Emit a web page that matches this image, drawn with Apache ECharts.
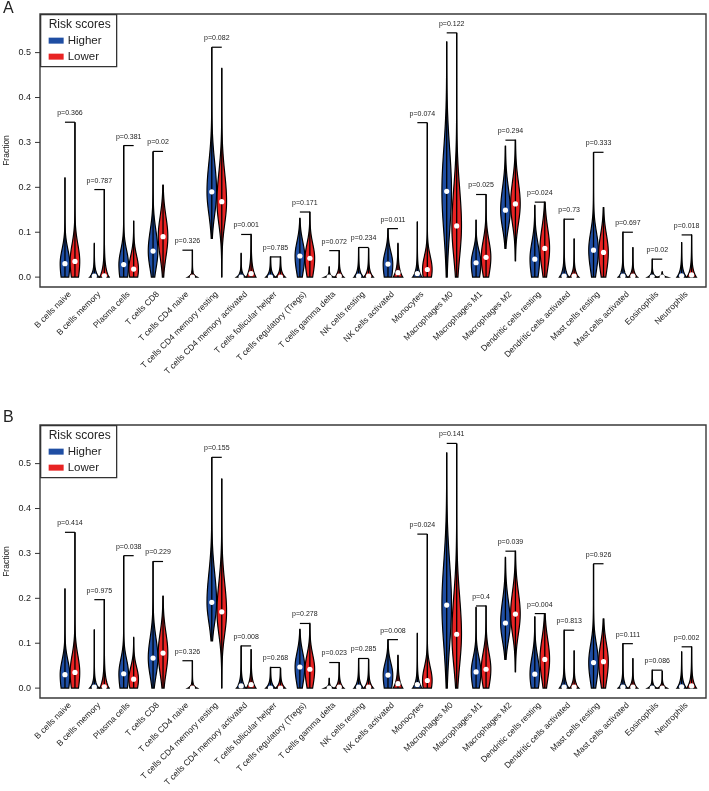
<!DOCTYPE html>
<html><head><meta charset="utf-8">
<script src="https://cdn.jsdelivr.net/npm/echarts@6/dist/echarts.min.js"></script>
<style>html,body{margin:0;padding:0;background:#fff}#c{width:709px;height:791px}</style>
</head><body><div id="c"></div>
<script>
// ---------------- data ----------------
const categories = ['B cells naive','B cells memory','Plasma cells','T cells CD8','T cells CD4 naive',
  'T cells CD4 memory resting','T cells CD4 memory activated','T cells follicular helper',
  'T cells regulatory (Tregs)','T cells gamma delta','NK cells resting','NK cells activated',
  'Monocytes','Macrophages M0','Macrophages M1','Macrophages M2','Dendritic cells resting',
  'Dendritic cells activated','Mast cells resting','Mast cells activated','Eosinophils','Neutrophils'];
const yTicks = [0, 0.1, 0.2, 0.3, 0.4, 0.5];
const groups = ['Higher', 'Lower'];

// p values (panel A, panel B)
const pA = ['0.366','0.787','0.381','0.02','0.326','0.082','0.001','0.785','0.171','0.072','0.234',
  '0.011','0.074','0.122','0.025','0.294','0.024','0.73','0.333','0.697','0.02','0.018'];
const pB = ['0.414','0.975','0.038','0.229','0.326','0.155','0.008','0.268','0.278','0.023','0.285',
  '0.008','0.024','0.141','0.4','0.039','0.004','0.813','0.926','0.111','0.086','0.002'];

// violin summaries: [min, max, median, lower spread, upper spread]
const higherA = [[0,.222,.030,.045,.032],[0,.075,.002,.012,.012],[0,.293,.028,.045,.032],[0,.280,.058,.04,.045],null,
  [.086,.512,.190,.05,.065],[0,.053,0,.008,.008],[0,.045,0,.01,.01],[0,.131,.047,.04,.032],[0,.023,0,.004,.004],
  [0,.066,.002,.012,.012],[0,.108,.029,.04,.027],[0,.123,.008,.015,.015],[0,.524,.191,.09,.095],[0,.127,.032,.04,.027],
  [.064,.292,.149,.04,.05],[0,.160,.040,.045,.038],[0,.129,.002,.015,.015],[0,.278,.060,.045,.04],[0,.100,.002,.012,.012],
  [0,.040,0,.006,.006],[0,.077,.003,.014,.014]];
const lowerA = [[0,.345,.035,.045,.038],[0,.195,.003,.02,.02],[0,.125,.018,.03,.03],[0,.205,.090,.045,.045],[0,.060,0,.006,.006],
  [0,.465,.168,.05,.065],[0,.095,.008,.02,.02],[0,.045,0,.01,.01],[0,.145,.042,.04,.032],[0,.059,.002,.01,.01],
  [0,.064,.002,.012,.012],[0,.075,.010,.018,.018],[0,.344,.017,.03,.03],[0,.544,.114,.07,.085],[0,.184,.044,.04,.037],
  [.036,.305,.163,.045,.05],[0,.167,.064,.045,.045],[0,.085,.002,.012,.012],[0,.155,.055,.045,.04],[0,.066,.002,.01,.01],
  [0,.012,0,.003,.003],[0,.094,.005,.016,.016]];
const higherB = [[0,.222,.030,.045,.032],[0,.130,.002,.012,.012],[0,.295,.032,.045,.032],[0,.282,.067,.04,.045],null,
  [.105,.514,.191,.045,.065],[0,.094,.005,.014,.014],[0,.046,0,.01,.01],[0,.131,.047,.04,.032],[0,.022,0,.004,.004],
  [0,.066,.002,.012,.012],[0,.108,.029,.04,.027],[0,.122,.008,.015,.015],[0,.524,.185,.09,.095],[0,.180,.036,.04,.032],
  [.064,.291,.145,.04,.05],[0,.159,.031,.04,.038],[0,.129,.002,.015,.015],[0,.277,.057,.045,.04],[0,.099,.002,.012,.012],
  [0,.040,0,.006,.006],[0,.081,.003,.014,.014]];
const lowerB = [[0,.347,.035,.045,.038],[0,.197,.003,.02,.02],[0,.113,.020,.03,.027],[0,.205,.078,.045,.045],[0,.061,0,.006,.006],
  [0,.466,.170,.05,.065],[0,.086,.008,.016,.016],[0,.044,0,.01,.01],[0,.144,.042,.04,.032],[0,.057,.002,.01,.01],
  [0,.064,.002,.012,.012],[0,.073,.010,.018,.018],[0,.343,.017,.03,.03],[0,.545,.120,.07,.085],[0,.183,.042,.04,.037],
  [.036,.305,.165,.045,.05],[0,.166,.064,.045,.045],[0,.083,.002,.012,.012],[0,.154,.059,.045,.04],[0,.066,.002,.01,.01],
  [0,.038,0,.006,.006],[0,.092,.005,.016,.016]];

// ---------------- styling ----------------
const BLUE = '#1f4ea3', RED = '#e82323', INK = '#222';
const FONT = '"Liberation Sans", Arial, sans-serif';
const OFF = 0.17;   // group offset (category units)
const HALF = 0.163; // max violin half-width (category units)
const XMIN = -1.02, XMAX = 21.66, YMIN = -0.022, YMAX = 0.586;

function relWidth(v, y) {
  const lo = v[0], med = v[2];
  if (med - lo < 0.012) return Math.exp(-(y - lo) / v[4]);     // mass piled at minimum
  const d = y - med, s = d < 0 ? v[3] : v[4];
  return Math.exp(-0.5 * (d / s) * (d / s));
}

function violin(api, xc, v, color) {
  const n = 120, right = [], left = [];
  for (let i = 0; i <= n; i++) {
    const y = v[0] + (v[1] - v[0]) * i / n;
    const w = HALF * relWidth(v, y);
    right.push(api.coord([xc + w, y]));
    left.push(api.coord([xc - w, y]));
  }
  const pts = right.concat(left.reverse());
  const a = api.coord([xc, v[0]]), b = api.coord([xc, v[1]]), m = api.coord([xc, v[2]]);
  return [
    {type: 'polygon', shape: {points: pts}, style: {fill: color, stroke: '#000', lineWidth: 1.2}},
    {type: 'line', shape: {x1: a[0], y1: a[1], x2: b[0], y2: b[1]}, style: {stroke: '#000', lineWidth: 1.3}},
    {type: 'circle', shape: {cx: m[0], cy: m[1], r: 2.6}, style: {fill: '#fff'}}
  ];
}

function makeRender(hi, lo, pv) {
  return function (params, api) {
    const i = api.value(0);
    const children = [];
    if (i === 0) {   // y-axis tick marks, outside the frame
      yTicks.forEach(t => {
        const q = api.coord([XMIN, t]);
        children.push({type: 'line', shape: {x1: q[0] - 5, y1: q[1], x2: q[0], y2: q[1]}, style: {stroke: '#333', lineWidth: 1}});
      });
    }
    const h = hi[i], l = lo[i];
    if (h) children.push(...violin(api, i - OFF, h, BLUE));
    if (l) children.push(...violin(api, i + OFF, l, RED));
    const top = Math.max(h ? h[1] : 0, l ? l[1] : 0);
    const p1 = api.coord([i - OFF, top]), p2 = api.coord([i + OFF, top]);
    children.push({type: 'line', shape: {x1: p1[0], y1: p1[1], x2: p2[0], y2: p2[1]}, style: {stroke: '#000', lineWidth: 1.2}});
    const t = api.coord([i, top + 0.02]);
    children.push({type: 'text', x: t[0], y: t[1], style: {text: 'p=' + pv[i], fontSize: 7, fontFamily: FONT, fill: INK, align: 'center', verticalAlign: 'middle'}});
    return {type: 'group', children};
  };
}

const catIdx = categories.map((c, i) => [i, 0]);
const gridTops = [14, 425];

function xAx(gi) {
  return {gridIndex: gi, type: 'value', min: XMIN, max: XMAX, position: 'bottom',
    axisLine: {show: false, onZero: false}, axisTick: {show: false}, splitLine: {show: false},
    axisLabel: {customValues: categories.map((c, i) => i), rotate: 45, fontSize: 8.5, fontFamily: FONT, color: INK, margin: 6,
      formatter: v => categories[Math.round(v)] || ''}};
}
function yAx(gi) {
  return {gridIndex: gi, type: 'value', min: YMIN, max: YMAX, position: 'left',
    name: 'Fraction', nameLocation: 'middle', nameRotate: 90, nameGap: 29, nameMoveOverlap: false,
    nameTextStyle: {fontSize: 8.5, fontFamily: FONT, color: INK},
    axisLine: {show: false, onZero: false}, splitLine: {show: false},
    axisTick: {show: false},
    axisLabel: {showMinLabel: false, showMaxLabel: false, fontSize: 9, fontFamily: FONT, color: INK, margin: 9,
      formatter: v => (yTicks.some(t => Math.abs(t - v) < 1e-9) ? v.toFixed(1) : '')}};
}

function legendGraphic(top) {
  return {type: 'group', left: 40, top: top, children: [
    {type: 'rect', shape: {x: 0, y: 0, width: 76, height: 52}, style: {fill: '#fff', stroke: '#333', lineWidth: 1.3}},
    {type: 'text', x: 8, y: 10, style: {text: 'Risk scores', fontSize: 12, fontFamily: FONT, fill: INK, verticalAlign: 'middle'}},
    {type: 'rect', shape: {x: 8, y: 23, width: 15, height: 6}, style: {fill: BLUE}},
    {type: 'text', x: 27, y: 26, style: {text: groups[0], fontSize: 11.5, fontFamily: FONT, fill: INK, verticalAlign: 'middle'}},
    {type: 'rect', shape: {x: 8, y: 39, width: 15, height: 6}, style: {fill: RED}},
    {type: 'text', x: 27, y: 42, style: {text: groups[1], fontSize: 11.5, fontFamily: FONT, fill: INK, verticalAlign: 'middle'}}
  ]};
}

const chart = echarts.init(document.getElementById('c'), null, {renderer: 'canvas'});
chart.setOption({
  animation: false,
  backgroundColor: '#fff',
  grid: gridTops.map(t => ({left: 40, width: 666, top: t, height: 273, show: true, borderColor: '#3a3a3a', borderWidth: 1.4,
    backgroundColor: 'transparent', containLabel: false, outerBoundsMode: 'none'})),
  xAxis: [xAx(0), xAx(1)],
  yAxis: [yAx(0), yAx(1)],
  series: [
    {type: 'custom', xAxisIndex: 0, yAxisIndex: 0, data: catIdx, clip: false, renderItem: makeRender(higherA, lowerA, pA), encode: {x: 0, y: 1}},
    {type: 'custom', xAxisIndex: 1, yAxisIndex: 1, data: catIdx, clip: false, renderItem: makeRender(higherB, lowerB, pB), encode: {x: 0, y: 1}}
  ],
  graphic: [
    legendGraphic(14), legendGraphic(425),
    {type: 'text', left: 3, top: 1, style: {text: 'A', fontSize: 16, fontFamily: FONT, fill: INK}},
    {type: 'text', left: 3, top: 410, style: {text: 'B', fontSize: 16, fontFamily: FONT, fill: INK}}
  ]
});
</script></body></html>
